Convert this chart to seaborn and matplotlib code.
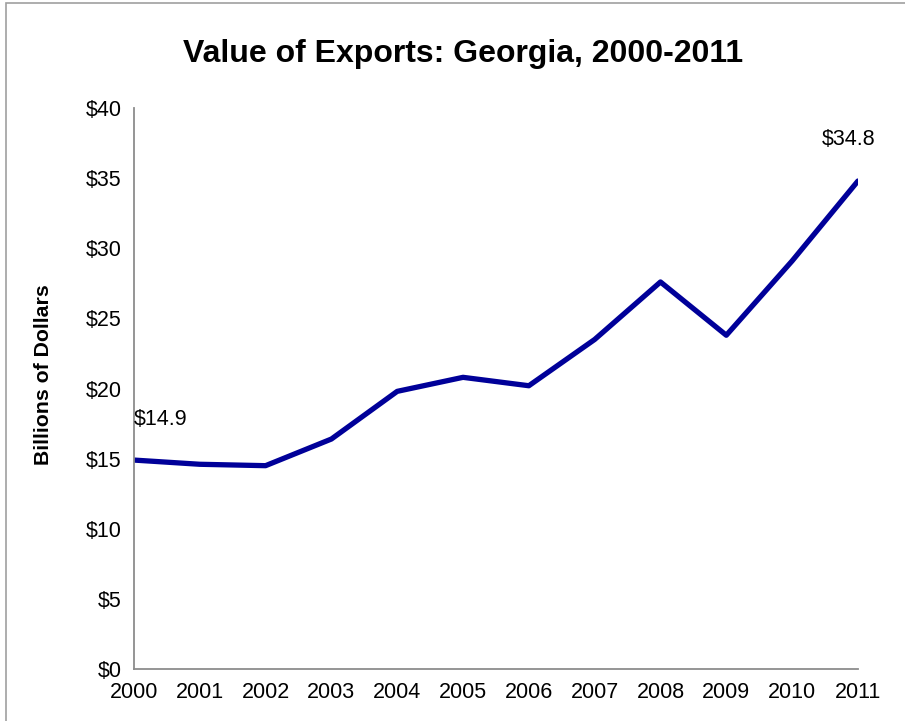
import matplotlib
matplotlib.use("Agg")
import matplotlib.pyplot as plt
import seaborn as sns
import pandas as pd
from matplotlib.patches import Rectangle

years = [2000, 2001, 2002, 2003, 2004, 2005, 2006, 2007, 2008, 2009, 2010, 2011]
exports = [14.9, 14.6, 14.5, 16.4, 19.8, 20.8, 20.2, 23.5, 27.6, 23.8, 29.1, 34.8]
y_ticks = [0, 5, 10, 15, 20, 25, 30, 35, 40]
y_labels = ["$0", "$5", "$10", "$15", "$20", "$25", "$30", "$35", "$40"]
title = "Value of Exports: Georgia, 2000-2011"
ylabel = "Billions of Dollars"

df = pd.DataFrame({"Year": years, "Exports": exports})

sns.set_style("white")
plt.rcParams['font.family'] = ['Liberation Sans', 'DejaVu Sans']
plt.rcParams['text.color'] = 'black'
plt.rcParams['axes.labelcolor'] = 'black'

fig = plt.figure(figsize=(9.05, 7.21), dpi=100)
ax = fig.add_axes([0.148, 0.0721, 0.800, 0.778])

sns.lineplot(data=df, x="Year", y="Exports", ax=ax, color="#000099", linewidth=3.8)

fs = 15.5
ax.set_xlim(2000, 2011)
ax.set_ylim(0, 40)
ax.set_xticks(years)
ax.set_xticklabels([str(y) for y in years], fontsize=fs)
ax.set_yticks(y_ticks)
ax.set_yticklabels(y_labels, fontsize=fs)
ax.set_xlabel("")
ax.set_ylabel(ylabel, fontsize=15.3, fontweight="bold", color="black")
ax.yaxis.set_label_coords(-0.112, 0.524)

for s in ["top", "right"]:
    ax.spines[s].set_visible(False)
for s in ["left", "bottom"]:
    ax.spines[s].set_color("#8c8c8c")
    ax.spines[s].set_linewidth(1.3)
ax.tick_params(axis="both", direction="out", length=6, width=1.3, color="#8c8c8c",
               labelcolor="black", pad=3)

# annotations for first and last points
ax.annotate(f"${exports[0]}", xy=(years[0], exports[0]), xytext=(0, 29.5),
            textcoords="offset points", fontsize=fs, ha="left", va="center", color="black")
ax.annotate(f"${exports[-1]}", xy=(years[-1], exports[-1]), xytext=(-6.5, 30),
            textcoords="offset points", fontsize=fs, ha="center", va="center", color="black")

fig.text(0.512, 0.925, title, fontsize=23, fontweight="bold", ha="center", va="center",
         color="black")

# outer frame
fig.patches.append(Rectangle((6/905, -0.1), 2.0, 1.1 - 3/721, transform=fig.transFigure,
                             fill=False, edgecolor="#a0a0a0", linewidth=1.2))

fig.savefig("out.png", dpi=100)
